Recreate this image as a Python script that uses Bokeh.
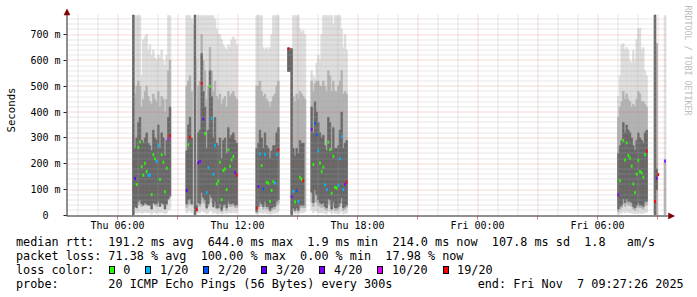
import numpy as np
import pandas as pd
from bokeh.plotting import figure
from bokeh.layouts import column
from bokeh.models import (Range1d, FixedTicker, DatetimeTickFormatter, Label, ColumnDataSource, Div)
from bokeh.core.properties import value
from bokeh.embed import file_html
from bokeh.resources import INLINE

NAN = float("nan")

# ---------------- data ----------------
segment_start = ["2025-11-06 06:45", "2025-11-06 09:25", "2025-11-06 12:55", "2025-11-06 14:30",
                 "2025-11-06 15:40", "2025-11-07 07:00", "2025-11-07 08:50", "2025-11-07 09:20"]
segment_steps = [23, 31, 14, 11, 22, 18, 3, 1]
step_minutes = 5

median_ms = [
    NAN, 143, 120, 264, 285, 189, 156, 202, 170, 156, 156, 81, 235, 219, 209, 270, 139, 235, 206, 92, 183, 295, 309,
    97, 273, 303, NAN, NAN, NAN, 23, 204, 210, 512, 373, 316, 89, 185, 500, 374, 160, 271, 122, 133, 206, 61, 174, 180, 100, 254, 190, 215, 228, 165, 156,
    29, 112, 238, 193, 103, 236, 129, 125, 54, 97, 131, 126, 236, 254,
    645, NAN, 73, 93, 52, 97, 54, 148, 140, 135, NAN,
    333, 197, 357, 312, 250, 203, 170, 187, 119, 100, 284, 254, 86, 229, 108, 106, 116, 219, 305, 100, 121, 129,
    80, 134, NAN, 290, 215, 281, 232, 222, 191, 122, 89, 160, 213, 170, 165, 148, 235, 249,
    54, 144, 158,
    211,
]
loss_count = [
    NAN, 3, 0, 0, 0, 0, 0, 0, 0, 1, 1, 0, 0, 0, 1, 1, 0, 0, 0, 0, 0, 10, 19,
    3, 0, 19, NAN, NAN, NAN, 19, 3, 4, 19, 4, 0, 1, 1, 0, 1, 1, 1, 0, 0, 0, 0, 0, 0, 0, 0, 0, 0, 0, 4, 19,
    19, 4, 1, 0, 2, 1, 0, 0, 0, 0, 0, 1, 1, 19,
    19, NAN, 4, 1, 0, 2, 1, 0, 0, 19, NAN,
    4, 0, 2, 2, 1, 0, 0, 0, 1, 1, 0, 0, 0, 0, 0, 0, 1, 1, 1, 1, 4, 19,
    4, 0, NAN, 0, 0, 0, 0, 0, 0, 0, 0, 0, 0, 0, 0, 0, 0, 19,
    19, 4, 19,
    4,
]
# smoke: outer (lo..hi), middle (mlo..mhi), inner (ilo..ihi) ping spread, ms
lo_ms = [
    3, 12, 10, 15, 12, 8, 10, 15, 10, 12, 10, 5, 12, 10, 8, 15, 10, 12, 10, 6, 10, 20, 25,
    10, 15, 20, 10, 30, 3, 10, 12, 10, 20, 15, 12, 8, 10, 20, 15, 8, 12, 8, 8, 10, 5, 8, 10, 6, 12, 10, 10, 12, 10, 10,
    5, 8, 12, 10, 8, 12, 8, 8, 5, 6, 8, 8, 12, 15,
    557, 557, 3, 8, 5, 8, 5, 10, 10, 10, 15,
    20, 10, 20, 15, 12, 10, 10, 10, 8, 6, 15, 12, 6, 12, 8, 8, 8, 10, 15, 6, 8, 10,
    5, 8, 10, 15, 10, 15, 12, 10, 10, 8, 6, 8, 10, 8, 8, 8, 12, 12,
    3, 3, NAN,
    3,
]
mlo_ms = [
    3, 35, 30, 40, 45, 35, 40, 50, 40, 45, 40, 25, 45, 40, 35, 50, 35, 45, 40, 25, 40, 60, 70,
    30, 40, 50, 40, NAN, 3, 15, 40, 35, 60, 50, 45, 25, 35, 60, 50, 30, 40, 25, 25, 35, 15, 30, 35, 20, 40, 35, 35, 40, 30, 30,
    10, 25, 40, 35, 25, 40, 25, 25, 15, 20, 25, 25, 40, 45,
    557, 557, 3, 20, 15, 20, 15, 30, 30, 30, 30,
    50, 35, 55, 50, 40, 35, 30, 35, 25, 20, 45, 40, 20, 40, 20, 20, 25, 35, 45, 20, 25, 30,
    15, 25, 30, 45, 35, 45, 40, 40, 35, 25, 20, 30, 35, 30, 30, 25, 40, 40,
    3, 3, NAN,
    3,
]
ilo_ms = [
    3, 35, 30, 55, 60, 45, 40, 50, 45, 40, 40, 25, 50, 45, 45, 55, 35, 50, 45, 25, 45, 65, 75,
    45, 60, 65, 45, NAN, 3, 18, 50, 45, 90, 70, 60, 30, 45, 80, 70, 35, 55, 30, 30, 45, 20, 40, 45, 30, 55, 45, 45, 50, 40, 40,
    15, 35, 55, 45, 35, 55, 35, 35, 20, 30, 35, 35, 55, 60,
    557, 557, 3, 30, 20, 30, 20, 40, 40, 40, NAN,
    90, 50, 100, 80, 60, 50, 45, 50, 35, 30, 65, 60, 25, 55, 30, 30, 35, 50, 70, 30, 35, 40,
    25, 35, 40, 65, 50, 65, 55, 55, 50, 35, 30, 40, 50, 40, 40, 35, 55, 55,
    3, 100, NAN,
    NAN,
]
ihi_ms = [
    775, 260, 300, 360, 380, 290, 280, 300, 320, 280, 270, 250, 330, 300, 290, 350, 260, 320, 300, 230, 290, 380, 420,
    250, 350, 380, 300, NAN, 775, 40, 320, 330, 626, 480, 420, 260, 330, 560, 460, 300, 380, 280, 270, 300, 220, 290, 300, 240, 340, 300, 310, 320, 290, 280,
    260, 280, 330, 300, 260, 320, 270, 260, 220, 250, 270, 270, 320, 340,
    647, 647, 645, 260, 230, 260, 240, 290, 280, 280, NAN,
    420, 320, 440, 400, 360, 320, 300, 310, 270, 250, 380, 360, 250, 340, 260, 260, 270, 330, 400, 260, 280, 290,
    240, 270, 290, 360, 320, 350, 330, 320, 300, 270, 250, 290, 320, 300, 290, 280, 320, 330,
    775, 180, NAN,
    NAN,
]
mhi_ms = [
    775, 470, 500, 520, 500, 420, 450, 480, 500, 460, 440, 430, 470, 450, 440, 480, 420, 460, 450, 400, 450, 560, 600,
    500, 520, 540, 480, NAN, 775, 200, 500, 520, 700, 600, 560, 450, 500, 650, 560, 480, 520, 460, 450, 470, 430, 450, 460, 420, 480, 460, 470, 480, 460, 450,
    500, 500, 520, 480, 460, 470, 450, 440, 420, 440, 460, 470, 500, 520,
    647, 647, 645, 460, 440, 470, 450, 480, 470, 460, 450,
    520, 480, 510, 520, 520, 500, 500, 520, 500, 480, 560, 540, 480, 520, 480, 480, 500, 520, 560, 470, 480, 470,
    380, 420, 440, 480, 450, 470, 450, 440, 420, 430, 420, 450, 480, 470, 440, 440, 430, 420,
    775, 665, NAN,
    211,
]
hi_ms = [
    775, 773, 773, 773, 773, 540, 680, 690, 700, 640, 660, 620, 640, 610, 600, 620, 610, 640, 600, 580, 620, 773, 773,
    773, 773, 773, 760, 740, 775, 600, 773, 773, 773, 773, 773, 773, 773, 773, 773, 773, 760, 720, 700, 700, 680, 660, 650, 640, 660, 650, 680, 690, 680, 660,
    773, 773, 773, 773, 650, 640, 650, 640, 650, 700, 773, 773, 773, 773,
    647, 647, 645, 773, 773, 773, 773, 720, 710, 715, 700,
    560, 540, 530, 590, 620, 600, 700, 773, 773, 773, 773, 773, 773, 740, 773, 773, 773, 773, 720, 650, 700, 640,
    460, 540, 660, 665, 640, 650, 640, 600, 590, 640, 600, 680, 720, 725, 640, 650, 560, 540,
    775, 665, NAN,
    773,
]

loss_thresholds = [0, 1, 2, 3, 4, 10, 19]
loss_labels = ["0", "1/20", "2/20", "3/20", "4/20", "10/20", "19/20"]
loss_colors = ["#26ff00", "#00b8ff", "#0059ff", "#5e00ff", "#7e00ff", "#dd00ff", "#ff0000"]

x_tick_times = ["2025-11-06 06:00", "2025-11-06 12:00", "2025-11-06 18:00",
                "2025-11-07 00:00", "2025-11-07 06:00"]
y_tick_values = [0, 100, 200, 300, 400, 500, 600, 700]
y_tick_labels = ["0\u00a0\u00a0", "100 m", "200 m", "300 m", "400 m", "500 m", "600 m", "700 m"]

legend_rows = [
    "median rtt:  191.2 ms avg  644.0 ms max  1.9 ms min  214.0 ms now  107.8 ms sd  1.8   am/s",
    "packet loss: 71.38 % avg  100.00 % max  0.00 % min  17.98 % now",
    "loss color:",
    "probe:       20 ICMP Echo Pings (56 Bytes) every 300s            end: Fri Nov  7 09:27:26 2025",
]
watermark = "RRDTOOL / TOBI OETIKER"

# ---------------- build table ----------------
times = []
for s, n in zip(segment_start, segment_steps):
    times.extend(pd.date_range(s, periods=n, freq=f"{step_minutes}min"))
df = pd.DataFrame({"t": times, "med": median_ms, "loss": loss_count, "lo": lo_ms, "mlo": mlo_ms,
                   "ilo": ilo_ms, "ihi": ihi_ms, "mhi": mhi_ms, "hi": hi_ms})
df["t2"] = df["t"] + pd.Timedelta(minutes=step_minutes)
df["tc"] = df["t"] + pd.Timedelta(minutes=step_minutes / 2)


def loss_color(v):
    c = None
    for th, col in zip(loss_thresholds, loss_colors):
        if v >= th:
            c = col
    return c


# ---------------- layout geometry (pixels) ----------------
FRAME_L, FRAME_W, FRAME_H = 66, 631, 219      # frame spans x 66..697, y 0..219
ZERO_PY = 215.0                               # pixel row of value 0
PX_MS = (215 - 34) / 700.0                    # pixels per ms
MIN_PX = 3.0                                  # minutes per pixel
t_frame0 = pd.Timestamp("2025-11-06 03:27")
ytop = (ZERO_PY - 14) / PX_MS


def tx(px):   # pixel column -> time
    return t_frame0 + pd.Timedelta(minutes=(px - FRAME_L) * MIN_PX)


def ty(py):   # pixel row -> ms
    return (ZERO_PY - py) / PX_MS


def ms(ts):
    return pd.Timestamp(ts).value // 10**6


p = figure(x_axis_type="datetime",
           x_range=Range1d(t_frame0, tx(FRAME_L + FRAME_W)),
           y_range=Range1d(ty(FRAME_H), ty(0)),
           frame_width=FRAME_W, frame_height=FRAME_H, min_border_left=FRAME_L, min_border_right=0,
           min_border_top=0, min_border_bottom=13, toolbar_location=None,
           output_backend="svg", background_fill_color="white", border_fill_color="white")
p.outline_line_color = None
p.grid.visible = False

# smoke
for a, b, col in [("lo", "hi", "#dddddd"), ("mlo", "mhi", "#b2b2b2"), ("ilo", "ihi", "#676767")]:
    sub = df.dropna(subset=[a, b])
    src = ColumnDataSource(dict(left=sub["t"], right=sub["t2"], bottom=sub[a], top=sub[b]))
    p.quad(left="left", right="right", bottom="bottom", top="top", source=src,
           fill_color=col, line_color=col, line_width=0.6)

# grid (dotted, on top of the smoke, crisp pixel positions)
three_h = list(pd.date_range("2025-11-06 06:00", "2025-11-07 09:00", freq="3h"))
one_h = [t for t in pd.date_range("2025-11-06 04:00", "2025-11-07 09:00", freq="1h") if t not in three_h]


def snap_t(t):
    px = FRAME_L + (t - t_frame0) / pd.Timedelta(minutes=MIN_PX)
    return tx(np.floor(px) + 0.5)


def snap_y(v):
    py = ZERO_PY - v * PX_MS
    return ty(np.floor(py) + 0.5)


minor_col, minor_alpha = "#a8a8a8", 0.55
major_col, major_alpha = "#e06060", 0.45
for tl, col, alpha in [(one_h, minor_col, minor_alpha), (three_h, major_col, major_alpha)]:
    xs = [snap_t(t) for t in tl]
    p.segment(x0=xs, y0=[0] * len(xs), x1=xs, y1=[ytop] * len(xs), line_color=col,
              line_alpha=alpha, line_dash="1 1", line_width=1, level="overlay")
y_minor = [v for v in range(20, 780, 20) if v % 100]
y_major = y_tick_values[1:]
for vl, col, alpha in [(y_minor, minor_col, minor_alpha), (y_major, major_col, major_alpha)]:
    ys = [snap_y(v) for v in vl]
    p.segment(x0=[tx(67)] * len(ys), y0=ys, x1=[tx(667)] * len(ys), y1=ys, line_color=col,
              line_alpha=alpha, line_dash="1 1", line_width=1, level="overlay")

# medians coloured by loss
med = df.dropna(subset=["med", "loss"])
msrc = ColumnDataSource(dict(x=med["tc"], y=med["med"],
                             c=[loss_color(v) for v in med["loss"]]))
p.rect(x="x", y="y", width=step_minutes * 60 * 1000, height=3, height_units="screen",
       source=msrc, fill_color="c", line_color=None, level="overlay")

# axis lines and arrows
axis_col = "#212121"
arrow_col = "#800000"
p.segment(x0=[tx(66), tx(66.5)], y0=[ty(215.5), ty(215.5)], x1=[tx(668), tx(66.5)],
          y1=[ty(215.5), ty(14)], line_color=axis_col, line_width=1, level="overlay")
p.patch(x=[tx(668), tx(668), tx(674)], y=[ty(212.5), ty(218.5), ty(215.5)],
        fill_color=arrow_col, line_color=arrow_col, line_width=0.5, level="overlay")
p.patch(x=[tx(63.5), tx(69.5), tx(66.5)], y=[ty(14.5), ty(14.5), ty(8.5)],
        fill_color=arrow_col, line_color=arrow_col, line_width=0.5, level="overlay")

# axes
p.xaxis.ticker = FixedTicker(ticks=[ms(t) for t in x_tick_times],
                             minor_ticks=[ms(t) for t in three_h if t.hour % 6])
p.xaxis.formatter = DatetimeTickFormatter(hours="%a %H:%M", hourmin="%a %H:%M", days="%a %H:%M",
                                          minutes="%a %H:%M", minsec="%a %H:%M")
p.yaxis.ticker = FixedTicker(ticks=y_tick_values, minor_ticks=[])
p.yaxis.major_label_overrides = dict(zip(y_tick_values, y_tick_labels))
for ax in (p.xaxis[0], p.yaxis[0]):
    ax.axis_line_color = None
    ax.major_label_text_font = "DejaVu Sans Mono"
    ax.major_label_text_font_size = "10px"
    ax.major_label_text_color = "black"
p.xaxis.major_tick_line_color = "#dc7a7a"
p.xaxis.major_tick_in = 3
p.xaxis.major_tick_out = 0
p.xaxis.minor_tick_in = 3
p.xaxis.minor_tick_out = 0
p.xaxis.minor_tick_line_color = "#dc7a7a"
p.xaxis.major_label_standoff = 0
p.yaxis.major_tick_line_color = axis_col
p.yaxis.major_tick_in = 0
p.yaxis.major_tick_out = 3
p.yaxis.minor_tick_line_color = None
p.yaxis.major_label_standoff = 3
p.yaxis.axis_label = "Seconds"
p.yaxis.axis_label_text_font = "DejaVu Sans Mono"
p.yaxis.axis_label_text_font_size = "10.7px"
p.yaxis.axis_label_text_font_style = "normal"
p.yaxis.axis_label_text_color = "black"
p.yaxis.axis_label_standoff = 9

p.add_layout(Label(x=ms(tx(687.7)), y=ty(5), text=watermark, angle=-np.pi / 2,
                   text_font="DejaVu Sans Mono", text_font_size="8.3px", text_color="#bcbcbc",
                   text_align="left", text_baseline="middle"))

# ---------------- legend block ----------------
CHAR = 7.1
row_top = [2.0, 15.8, 29.7, 43.5]
parts = []
for top, txt in zip(row_top, legend_rows):
    parts.append(f'<div style="position:absolute;left:16px;top:{top}px;white-space:pre;'
                 f'line-height:14px;">{txt}</div>')
bx = 108.7
for lab, col in zip(loss_labels, loss_colors):
    parts.append(f'<div style="position:absolute;left:{bx:.1f}px;top:32.5px;width:6px;height:8px;'
                 f'background:{col};border:1px solid black;"></div>')
    parts.append(f'<div style="position:absolute;left:{bx + 14.6:.1f}px;top:{row_top[2]}px;'
                 f'white-space:pre;line-height:14px;">{lab}</div>')
    bx = bx + 14.6 + len(lab) * CHAR + 15.0

html = ('<div style="position:relative;width:697px;height:65px;background:white;color:black;'
        "font-family:'DejaVu Sans Mono',monospace;font-size:11.8px;\">" + "".join(parts) + "</div>")
legend = Div(text=html, width=697, height=65, margin=0)

layout = column(p, legend, spacing=0)
open("out.html", "w").write(file_html(layout, INLINE))
